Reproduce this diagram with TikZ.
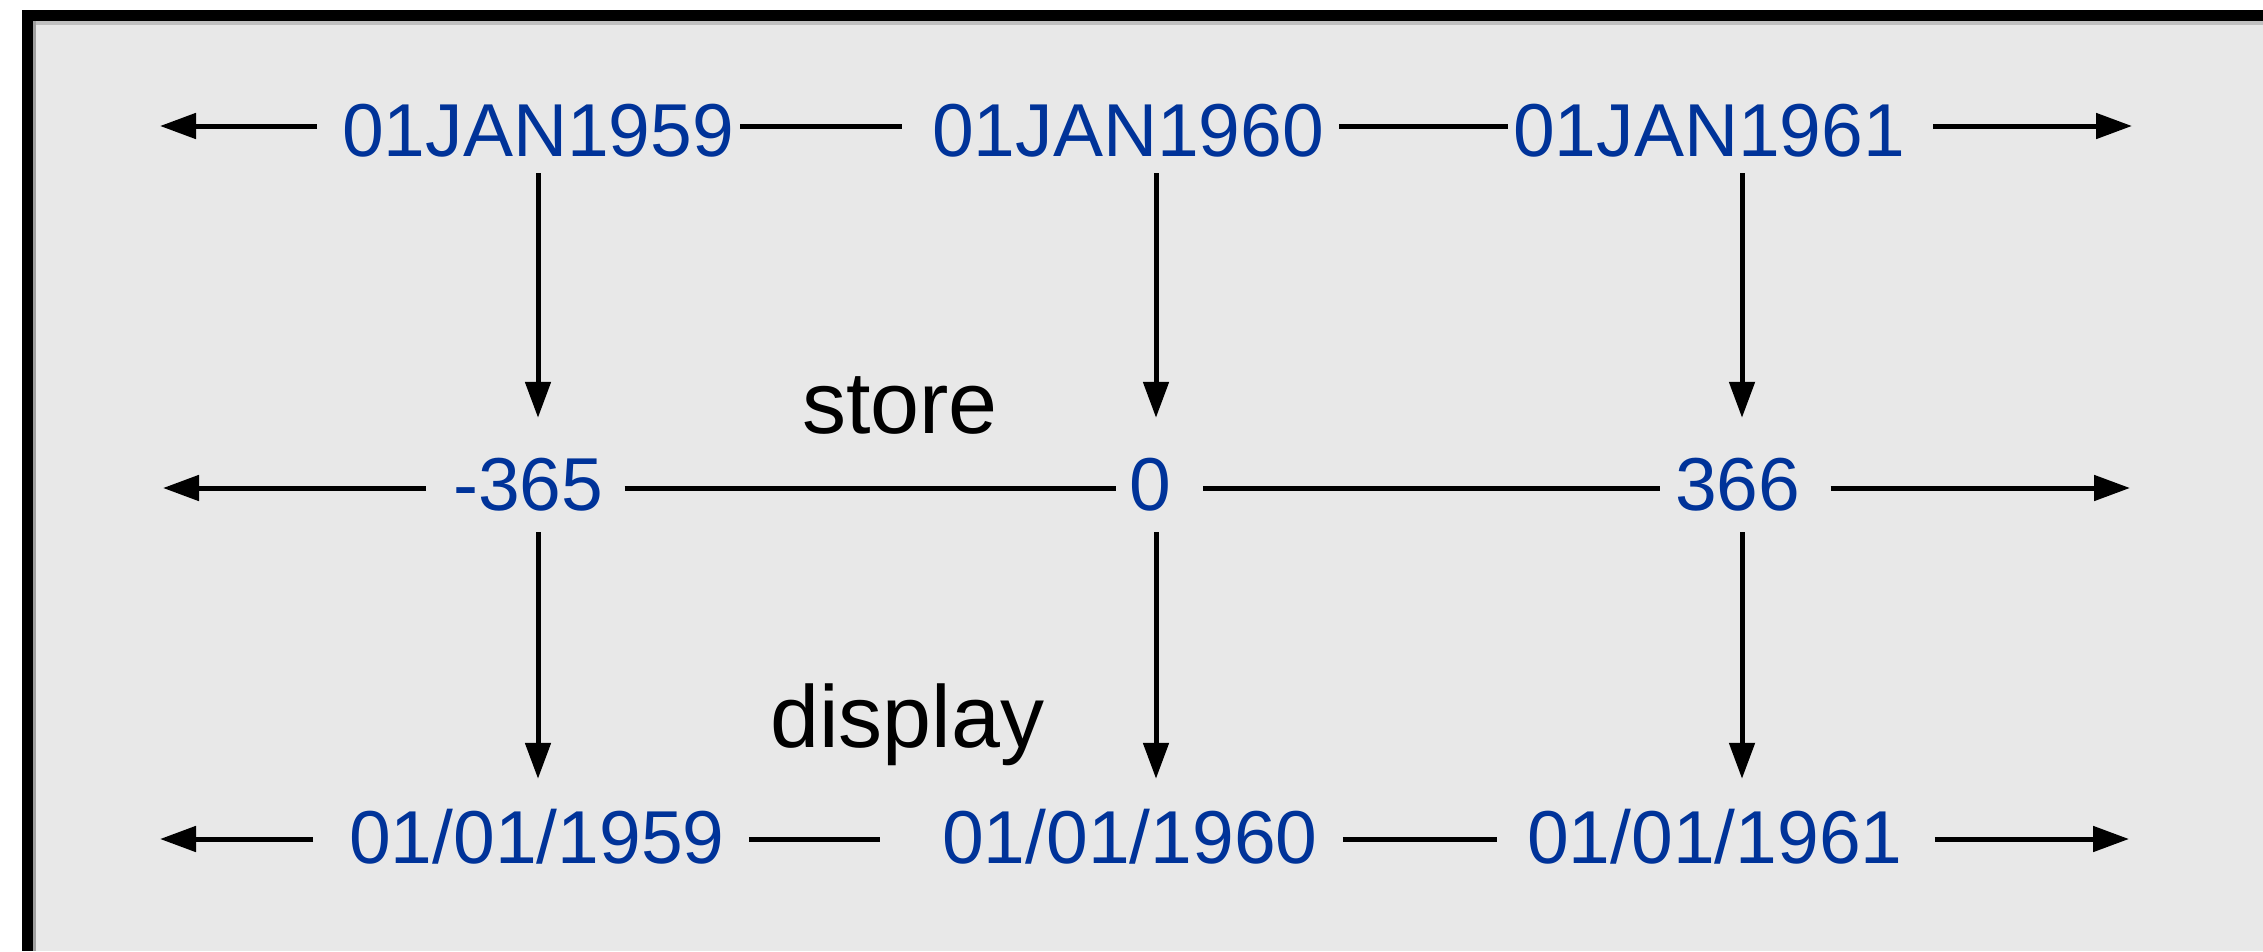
\documentclass[tikz,border=0pt]{standalone}
\usepackage{fontspec}
\setmainfont{Liberation Sans}
\usetikzlibrary{arrows.meta}
\definecolor{datablue}{RGB}{0,51,153}
\definecolor{panel}{RGB}{232,232,232}
\definecolor{edgetop}{RGB}{192,192,192}
\definecolor{edgeleft}{RGB}{160,160,160}
\begin{document}
\begin{tikzpicture}[x=1pt,y=-1pt,
  conn/.style={line width=5pt, black},
  arr/.style={conn, -{Triangle[length=36pt,width=25pt]}},
  val/.style={font=\fontsize{75}{90}\selectfont, text=datablue, inner sep=0pt, anchor=base west},
  rowA/.style={val, text height=60pt, text depth=0pt},
  rowB/.style={val, text height=54pt, text depth=10pt},
  rowC/.style={val, text height=54pt, text depth=6pt},
  lbl/.style={font=\fontsize{88}{100}\selectfont, inner sep=0pt, anchor=base west}]
\useasboundingbox (0,0) rectangle (2263,951);
% page and framed panel
\fill[white] (0,0) rectangle (2263,951);
\fill[black] (22,10) rectangle (2263,951);
\fill[panel] (33,21) rectangle (2263,951);
\fill[edgetop] (33,21) rectangle (2263,25);
\fill[edgeleft] (33,21) rectangle (36,951);

% column positions of the vertical arrows
\coordinate (c1) at (538,0);
\coordinate (c2) at (1156,0);
\coordinate (c3) at (1742,0);

% date values
\node[rowA] (t1) at (342,156) {01JAN1959};
\node[rowA] (t2) at (932,156) {01JAN1960};
\node[rowA] (t3) at (1513,156) {01JAN1961};
% stored day counts
\node[rowB] (m1) at (453,510) {-365};
\node[rowB] (m2) at (1129,510) {0};
\node[rowB] (m3) at (1675,510) {366};
% displayed dates
\node[rowC] (b1) at (349,863) {01/01/1959};
\node[rowC] (b2) at (942,863) {01/01/1960};
\node[rowC] (b3) at (1527,863) {01/01/1961};

\node[lbl] (store) at (802,433) {store};
\node[lbl] (display) at (770,747) {display};

% open ends of the time lines
\coordinate (aL) at (160,126);
\coordinate (aR) at (2132,126);
\coordinate (bL) at (163,488);
\coordinate (bR) at (2130,488);
\coordinate (cL) at (160,839);
\coordinate (cR) at (2129,839);

% top time line
\draw[arr, shorten <=25pt] (t1.west) -- (aL);
\draw[conn, shorten <=6pt, shorten >=30pt] (t1.east) -- (t2.west);
\draw[conn, shorten <=15pt, shorten >=5pt] (t2.east) -- (t3.west);
\draw[arr, shorten <=28pt] (t3.east) -- (aR);
% middle time line
\draw[arr, shorten <=27pt] (m1.west) -- (bL);
\draw[conn, shorten <=21pt, shorten >=13pt] (m1.east) -- (m2.west);
\draw[conn, shorten <=32pt, shorten >=15pt] (m2.east) -- (m3.west);
\draw[arr, shorten <=30pt] (m3.east) -- (bR);
% bottom time line
\draw[arr, shorten <=36pt] (b1.west) -- (cL);
\draw[conn, shorten <=24pt, shorten >=62pt] (b1.east) -- (b2.west);
\draw[conn, shorten <=25pt, shorten >=30pt] (b2.east) -- (b3.west);
\draw[arr, shorten <=32pt] (b3.east) -- (cR);

% store arrows
\draw[arr, shorten <=17pt, shorten >=38pt] (t1.south -| c1) -- (m1.north -| c1);
\draw[arr, shorten <=17pt, shorten >=38pt] (t2.south -| c2) -- (m2.north -| c2);
\draw[arr, shorten <=17pt, shorten >=38pt] (t3.south -| c3) -- (m3.north -| c3);
% display arrows
\draw[arr, shorten <=12pt, shorten >=30pt] (m1.south -| c1) -- (b1.north -| c1);
\draw[arr, shorten <=12pt, shorten >=30pt] (m2.south -| c2) -- (b2.north -| c2);
\draw[arr, shorten <=12pt, shorten >=30pt] (m3.south -| c3) -- (b3.north -| c3);
\end{tikzpicture}
\end{document}
